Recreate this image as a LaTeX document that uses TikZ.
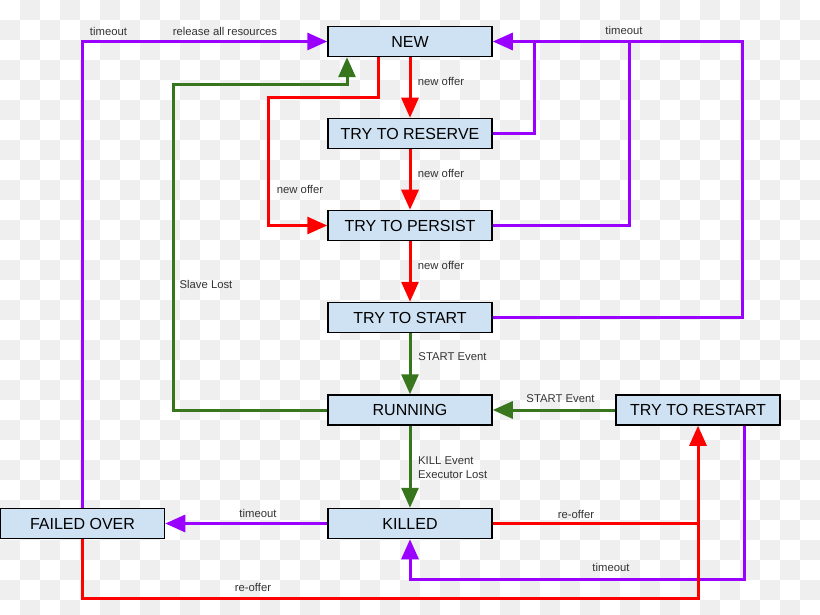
\documentclass[tikz,border=0pt]{standalone}
\usepackage{fontspec}
\setmainfont{Liberation Sans}
\usetikzlibrary{arrows.meta,calc}
\definecolor{boxfill}{HTML}{CFE2F3}
\definecolor{pur}{HTML}{9900FF}
\definecolor{grn}{HTML}{38761D}
\definecolor{rd}{HTML}{FF0000}
\definecolor{chk}{HTML}{EFEFEF}
\definecolor{lbl}{HTML}{333333}
\tikzset{
  state/.style={draw=black,line width=1.5pt,fill=boxfill,minimum width=164pt,minimum height=30pt,inner sep=0pt,font=\fontsize{16}{19}\selectfont},
  conn/.style={line width=3pt},
  purl/.style={conn,draw=pur},
  grnl/.style={conn,draw=grn},
  redl/.style={conn,draw=rd},
  tip/.style={-{Triangle[length=20pt,width=17pt]}},
  lab/.style={text=lbl,font=\fontsize{11.3}{13.5}\selectfont,inner sep=0pt}
}
\begin{document}
\begin{tikzpicture}[x=1pt,y=-1pt]
\useasboundingbox (0,0) rectangle (820,615);
\fill[white] (0,0) rectangle (820,615);
\foreach \i in {0,...,40}{
  \foreach \j in {0,...,30}{
    \pgfmathtruncatemacro\odd{mod(\i+\j,2)}
    \ifnum\odd=1 \fill[chk] (\i*20,\j*20) rectangle ++(20,20); \fi
  }
}
% states
\node[state] (new) at (410,41.5) {NEW};
\node[state] (reserve) at (410,133.5) {TRY TO RESERVE};
\node[state] (persist) at (410,225.5) {TRY TO PERSIST};
\node[state] (start) at (410,317.5) {TRY TO START};
\node[state] (running) at (410,410) {RUNNING};
\node[state] (restart) at (698,410) {TRY TO RESTART};
\node[state] (killed) at (410,523.5) {KILLED};
\node[state] (failed) at (82.5,523.5) {FAILED OVER};
% helper coordinates
\coordinate (gc) at (173,85);
\coordinate (rc) at (268,98);
\coordinate (p1) at (534,41.5);
\coordinate (p2) at (629,41.5);
\coordinate (p3) at (742,41.5);
\coordinate (pb) at (410,579);
\coordinate (rb) at (698,598);
% purple connectors
\draw[purl,tip] (failed.north) |- (new.west);
\draw[purl] (reserve.east) -| (p1);
\draw[purl] (persist.east) -| (p2);
\draw[purl,tip] (start.east) -| (p3) -- (new.east);
\draw[purl,tip] (killed.west) -- (failed.east);
\draw[purl,tip] ([xshift=46pt]restart.south) |- (pb) -- (killed.south);
% green connectors
\draw[grnl,tip] (running.west) -| (gc) -| ([xshift=-63pt]new.south);
\draw[grnl,tip] (start.south) -- (running.north);
\draw[grnl,tip] (running.south) -- (killed.north);
\draw[grnl,tip] (restart.west) -- (running.east);
% red connectors
\draw[redl,tip] ([xshift=-32pt]new.south) |- (rc) |- (persist.west);
\draw[redl,tip] (new.south) -- (reserve.north);
\draw[redl,tip] (reserve.south) -- (persist.north);
\draw[redl,tip] (persist.south) -- (start.north);
\draw[redl,tip] (killed.east) -| (restart.south);
\draw[redl] (failed.south) |- (rb) -- (rb |- killed.east);
% labels
\node[lab] (l1) at (108.5,31.5) {timeout};
\node[lab] (l2) at (225,31.5) {release all resources};
\node[lab] (l3) at (624,30.5) {timeout};
\node[lab] (l4) at (441,81) {new offer};
\node[lab] (l5) at (300,189) {new offer};
\node[lab] (l6) at (441,173) {new offer};
\node[lab] (l7) at (441,265.5) {new offer};
\node[lab] (l8) at (206,284.5) {Slave Lost};
\node[lab] (l9) at (452.5,357) {START Event};
\node[lab] (l10) at (560.5,398.5) {START Event};
\node[lab,anchor=west,align=left] (l11) at (418,467.5) {KILL Event\\Executor Lost};
\node[lab] (l12) at (258,513) {timeout};
\node[lab] (l13) at (576,514) {re-offer};
\node[lab] (l14) at (611,567) {timeout};
\node[lab] (l15) at (253,587.5) {re-offer};
\end{tikzpicture}
\end{document}
